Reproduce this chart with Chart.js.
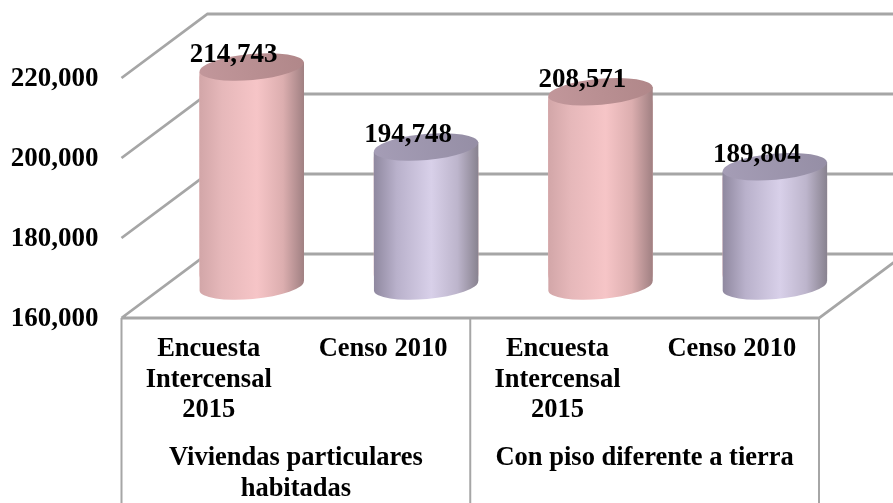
<!DOCTYPE html>
<html>
<head>
<meta charset="utf-8">
<style>
    html, body { margin: 0; padding: 0; background: #fff; }
    canvas { display: block; }
</style>
<script src="https://cdn.jsdelivr.net/npm/chart.js@4/dist/chart.umd.min.js"></script>
</head>
<body>
<canvas id="chart" width="893" height="503"></canvas>
<script>
const categories = [
    ['Encuesta', 'Intercensal', '2015'], 'Censo 2010',
    ['Encuesta', 'Intercensal', '2015'], 'Censo 2010'
];
const groups = [['Viviendas particulares', 'habitadas'], 'Con piso diferente a tierra'];
const values = [214743, 194748, 208571, 189804];
const yTicks = [160000, 180000, 200000, 220000];

const FONT = '"Liberation Serif", "Times New Roman", serif';
const GRID = '#a6a6a6';
const DEPTH_X = 43;
const DEPTH_Y = 32;

// body shading per bar, rose for the survey and lilac for the census
const shades = [
    { stops: ['#d2a6a8', '#e6b8ba', '#f6c5c7', '#dcaeaf', '#a08082'], top: ['#c2979b', '#b08789'] },
    { stops: ['#8f889f', '#b9b1cb', '#d8d0e9', '#bdb5cc', '#88828f'], top: ['#a59db6', '#958ea5'] }
];

function shadeFor(index) {
    return shades[index % 2];
}

function bodyGradient(ctx, left, right, index) {
    const g = ctx.createLinearGradient(left, 0, right, 0);
    const stops = shadeFor(index).stops;
    [0, 0.22, 0.55, 0.8, 1].forEach((p, i) => g.addColorStop(p, stops[i]));
    return g;
}

const cylinderWalls = {
    id: 'cylinderWalls',
    beforeDatasetsDraw(chart) {
        const { ctx, scales } = chart;
        const y = scales.y;
        const left = y.right;
        const right = scales.x.right;
        const front = y.getPixelForValue(yTicks[0]) + DEPTH_Y;

        ctx.save();
        ctx.strokeStyle = GRID;
        ctx.lineWidth = 2.8;
        ctx.beginPath();
        yTicks.forEach(tick => {
            const py = y.getPixelForValue(tick);
            // side wall, then back wall
            ctx.moveTo(left - DEPTH_X, py + DEPTH_Y);
            ctx.lineTo(left + DEPTH_X, py - DEPTH_Y);
            ctx.lineTo(right + DEPTH_X, py - DEPTH_Y);
        });
        // floor
        ctx.moveTo(left - DEPTH_X, front);
        ctx.lineTo(right - DEPTH_X, front);
        ctx.lineTo(right + DEPTH_X, front - 2 * DEPTH_Y);
        ctx.stroke();

        // table under the floor
        ctx.lineWidth = 2;
        ctx.beginPath();
        [left, (left + right) / 2, right].forEach(px => {
            ctx.moveTo(px - DEPTH_X, front);
            ctx.lineTo(px - DEPTH_X, chart.height);
        });
        ctx.stroke();
        ctx.restore();
    },
    afterDatasetsDraw(chart) {
        const { ctx } = chart;
        const bars = chart.getDatasetMeta(0).data;
        const tilt = -0.09;

        bars.forEach((bar, i) => {
            const rx = bar.width / 2;
            const ry = 13;
            const lift = Math.sin(tilt) * rx;
            const l = bar.x - rx;
            const r = bar.x + rx;

            // body with rounded foot
            ctx.save();
            ctx.fillStyle = bodyGradient(ctx, l, r, i);
            ctx.beginPath();
            ctx.moveTo(l, bar.y - lift);
            ctx.lineTo(r, bar.y + lift);
            ctx.lineTo(r, bar.base + lift);
            ctx.ellipse(bar.x, bar.base, rx, ry, tilt, 0, Math.PI);
            ctx.lineTo(l, bar.y - lift);
            ctx.closePath();
            ctx.fill();

            // lid
            const top = ctx.createLinearGradient(l, bar.y + ry, r, bar.y - ry);
            top.addColorStop(0, shadeFor(i).top[0]);
            top.addColorStop(1, shadeFor(i).top[1]);
            ctx.fillStyle = top;
            ctx.beginPath();
            ctx.ellipse(bar.x, bar.y, rx, ry, tilt, 0, Math.PI * 2);
            ctx.fill();
            ctx.restore();

            // value label
            ctx.save();
            ctx.font = 'bold 27px ' + FONT;
            ctx.fillStyle = '#000';
            ctx.textAlign = 'center';
            ctx.textBaseline = 'middle';
            ctx.fillText(values[i].toLocaleString('en-US'), bar.x - 18, bar.y - 12);
            ctx.restore();
        });
    }
};

new Chart(document.getElementById('chart'), {
    type: 'bar',
    data: {
        labels: categories,
        datasets: [{
            data: values,
            base: yTicks[0],
            barPercentage: 0.6,
            categoryPercentage: 1,
            // rounded so the flat corners stay inside the cylinder shape
            borderRadius: 12,
            borderSkipped: false,
            backgroundColor: (c) => {
                const bar = c.element;
                if (!bar || !bar.width) return '#e6b8ba';
                return bodyGradient(c.chart.ctx, bar.x - bar.width / 2, bar.x + bar.width / 2, c.dataIndex);
            }
        }]
    },
    options: {
        responsive: false,
        animation: false,
        layout: { padding: { top: 46, right: 31, left: 0, bottom: 0 } },
        plugins: { legend: { display: false }, tooltip: { enabled: false } },
        scales: {
            x: {
                position: 'bottom',
                weight: 0,
                grid: { display: false, drawTicks: false },
                border: { display: false },
                afterFit: (s) => { s.height = 150; },
                ticks: {
                    autoSkip: false, maxRotation: 0, padding: 48, labelOffset: -DEPTH_X,
                    color: '#000', font: { family: FONT, weight: 'bold', size: 26.5, lineHeight: 1.15 }
                }
            },
            x2: {
                type: 'category',
                position: 'bottom',
                weight: 1,
                offset: true,
                labels: groups,
                grid: { display: false, drawTicks: false },
                border: { display: false },
                afterFit: (s) => { s.height = 67; },
                ticks: {
                    autoSkip: false, maxRotation: 0, padding: 7, labelOffset: -DEPTH_X,
                    color: '#000', font: { family: FONT, weight: 'bold', size: 26.5, lineHeight: 1.17 }
                }
            },
            y: {
                min: yTicks[0],
                max: yTicks[yTicks.length - 1],
                grid: { display: false, drawTicks: false },
                border: { display: false },
                afterFit: (s) => { s.width = 164.5; s.paddingTop = 0; s.paddingBottom = 0; },
                afterBuildTicks: (s) => { s.ticks = yTicks.map(v => ({ value: v })); },
                ticks: {
                    padding: 66, labelOffset: 33, color: '#000',
                    font: { family: FONT, weight: 'bold', size: 27 },
                    callback: (v) => v.toLocaleString('en-US')
                }
            }
        }
    },
    plugins: [cylinderWalls]
});
</script>
</body>
</html>
